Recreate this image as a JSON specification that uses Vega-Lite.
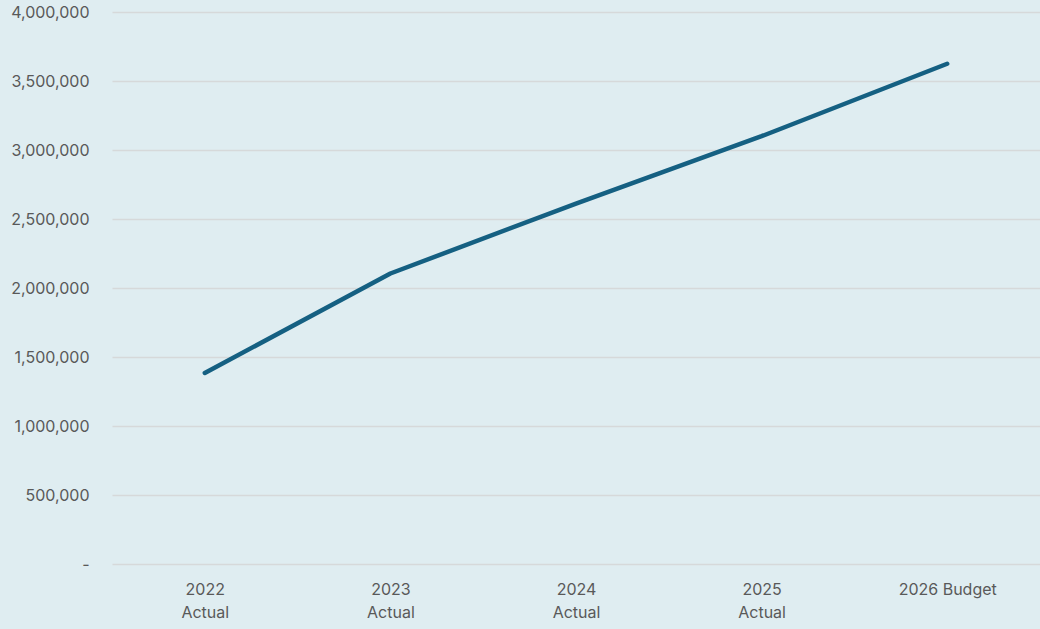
{
  "$schema": "https://vega.github.io/schema/vega-lite/v6.json",
  "width": 928,
  "height": 552,
  "autosize": {"type": "none"},
  "padding": {"left": 112, "top": 12, "right": 0, "bottom": 65},
  "background": "#dfedf1",
  "config": {
    "view": {"stroke": null},
    "font": "Inter",
    "axis": {"labelFont": "Inter", "labelColor": "#595959", "labelFontSize": 16}
  },
  "data": {
    "values": [
      {"period": "2022 Actual", "value": 1384000},
      {"period": "2023 Actual", "value": 2105000},
      {"period": "2024 Actual", "value": 2612000},
      {"period": "2025 Actual", "value": 3100000},
      {"period": "2026 Budget", "value": 3625000}
    ]
  },
  "mark": {"type": "line", "color": "#156082", "strokeWidth": 4.5, "strokeCap": "round", "strokeJoin": "round"},
  "encoding": {
    "x": {
      "field": "period",
      "type": "ordinal",
      "sort": null,
      "scale": {"type": "point", "padding": 0.5},
      "axis": {
        "title": null,
        "labelAngle": 0,
        "domain": false,
        "ticks": false,
        "grid": false,
        "labelPadding": 17,
        "labelBaseline": "top",
        "labelLineHeight": 23,
        "labelExpr": "datum.value == '2026 Budget' ? datum.value : split(datum.value, ' ')"
      }
    },
    "y": {
      "field": "value",
      "type": "quantitative",
      "scale": {"domain": [0, 4000000], "nice": false},
      "axis": {
        "title": null,
        "values": [0, 500000, 1000000, 1500000, 2000000, 2500000, 3000000, 3500000, 4000000],
        "domain": false,
        "ticks": false,
        "grid": true,
        "gridColor": "#d6d9da",
        "gridWidth": 1.5,
        "labelPadding": 23,
        "labelExpr": "datum.value == 0 ? '-\u00a0\u00a0\u00a0' : format(datum.value, ',')"
      }
    }
  }
}
